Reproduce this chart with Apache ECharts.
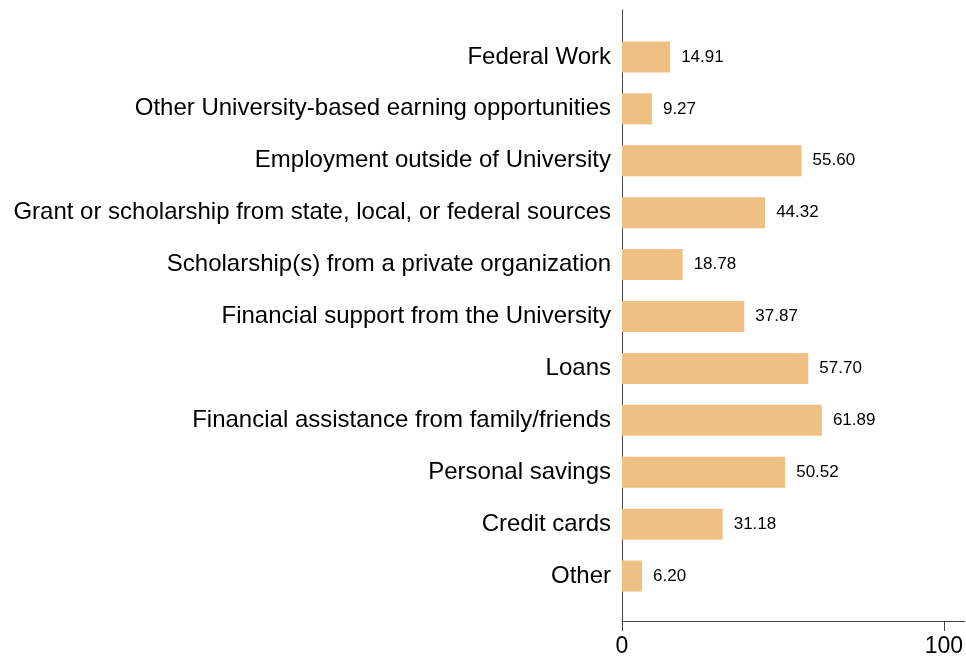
<!DOCTYPE html>
<html>
<head>
<meta charset="utf-8">
<script src="https://cdn.jsdelivr.net/npm/echarts@6/dist/echarts.min.js"></script>
<style>
html,body{margin:0;padding:0;background:#fff;}
#c{width:966px;height:658px;}
</style>
</head>
<body>
<div id="c"></div>
<script>
const categories = [
  "Federal Work",
  "Other University-based earning opportunities",
  "Employment outside of University",
  "Grant or scholarship from state, local, or federal sources",
  "Scholarship(s) from a private organization",
  "Financial support from the University",
  "Loans",
  "Financial assistance from family/friends",
  "Personal savings",
  "Credit cards",
  "Other"
];
const values = [14.91, 9.27, 55.60, 44.32, 18.78, 37.87, 57.70, 61.89, 50.52, 31.18, 6.20];
const xTicks = [0, 100];

const FONT = '"Liberation Sans", Arial, Helvetica, sans-serif';
const chart = echarts.init(document.getElementById('c'), null, {renderer: 'canvas'});
const XMAX = 106.5;
chart.setOption({
  animation: false,
  backgroundColor: '#ffffff',
  grid: [
    {left: 622, right: 0, top: 10, bottom: 36},
    {left: 622, right: 0, top: 31, bottom: 56}
  ],
  xAxis: [
    {
      type: 'value', gridIndex: 0, min: 0, max: XMAX,
      axisLine: {show: true, lineStyle: {color: '#444', width: 1}},
      axisTick: {show: true, length: 10, customValues: xTicks, lineStyle: {color: '#444'}},
      axisLabel: {show: true, customValues: xTicks, margin: 14, fontSize: 23, color: '#000', fontFamily: FONT},
      splitLine: {show: false}
    },
    {
      type: 'value', gridIndex: 1, min: 0, max: XMAX, show: false,
      splitLine: {show: false}
    }
  ],
  yAxis: [
    {
      type: 'value', gridIndex: 0, min: 0, max: 1,
      axisLine: {show: true, lineStyle: {color: '#444', width: 1}},
      axisTick: {show: false}, axisLabel: {show: false}, splitLine: {show: false}
    },
    {
      type: 'category', gridIndex: 1, data: categories, inverse: true,
      axisLine: {show: false}, axisTick: {show: false}, splitLine: {show: false},
      axisLabel: {margin: 11, fontSize: 24, color: '#000', fontFamily: FONT, padding: [3, 0, 0, 0]}
    }
  ],
  series: [{
    type: 'bar', xAxisIndex: 1, yAxisIndex: 1, data: values,
    barWidth: 31,
    itemStyle: {color: '#EFC084'},
    label: {
      show: true, position: 'right', distance: 11,
      fontSize: 17, color: '#000', fontFamily: FONT, padding: [2, 0, 0, 0],
      formatter: p => p.value.toFixed(2)
    }
  }]
});
</script>
</body>
</html>
